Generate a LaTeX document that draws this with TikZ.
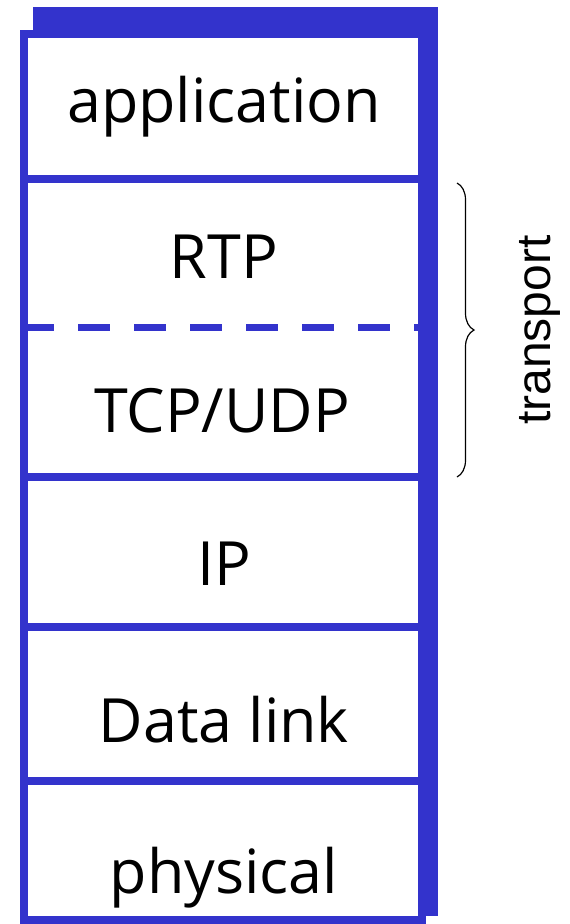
\documentclass[tikz,border=0pt]{standalone}
\usepackage{fontspec}
\setmainfont{Open Sans}
\newfontfamily\bracefont{Liberation Sans}
\usepackage{tikz}
\usetikzlibrary{positioning,decorations.pathreplacing}
\definecolor{stackblue}{RGB}{51,51,204}

\begin{document}
\begin{tikzpicture}[x=1pt, y=-1pt,
  layer/.style={font=\fontsize{61}{70}\selectfont, anchor=base, inner sep=0pt},
  border/.style={draw=stackblue, line width=8pt},
  split/.style={draw=stackblue, line width=7pt, dash pattern=on 32pt off 24pt},
  bracket/.style={decorate, decoration={brace, amplitude=17pt}, line width=1.2pt}
]
\useasboundingbox (0,0) rectangle (570,924);

% Shadow and frame
\fill[stackblue] (33,7) rectangle (438,916);
\draw[border, fill=white] (24,34) rectangle (422,920);

% Layer boundaries
\draw[border] (24,179) -- (422,179);
\draw[split] (22,327) -- (418,327);
\draw[border] (24,477) -- (422,477);
\draw[border] (24,627) -- (422,627);
\draw[border] (24,781) -- (422,781);

% Layers, top to bottom
\node[layer] (app) at (224,122) {application};
\node[layer] (rtp) at (224,278) {RTP};
\node[layer] (tcp) at (222,432) {TCP/UDP};
\node[layer] (ip) at (224,585) {IP};
\node[layer] (link) at (224,742) {Data link};
\node[layer] (phy) at (224,893) {physical};

% Transport brace
\coordinate (braceTop) at (457,183);
\coordinate (braceBot) at (457,477);
\draw[bracket] (braceTop) -- (braceBot);
\node[font=\bracefont\fontsize{48}{50}\selectfont, rotate=90, inner sep=0pt] (transport) at (540,330) {transport};

\end{tikzpicture}
\end{document}
